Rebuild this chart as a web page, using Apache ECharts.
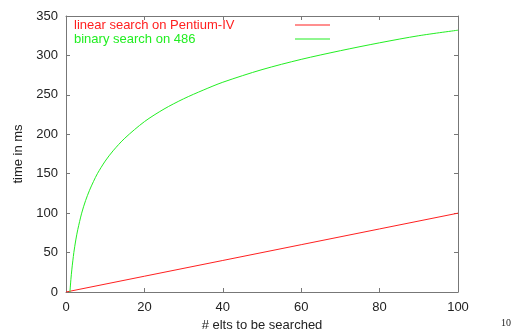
<!DOCTYPE html>
<html><head><meta charset="utf-8">
<script src="https://cdn.jsdelivr.net/npm/echarts@6/dist/echarts.min.js"></script>
<style>html,body{margin:0;padding:0;background:#fff}#c{width:515px;height:335px}</style>
</head><body><div id="c"></div>
<script>
const xTicks = [0, 20, 40, 60, 80, 100];
const yTicks = [0, 50, 100, 150, 200, 250, 300, 350];
const linearX = [0, 20, 40, 60, 80, 100];
const linearY = [0, 20, 40, 60, 80, 100];
const binaryX = [1, 1.25, 1.5, 2, 2.5, 3, 4, 5, 6, 7, 8, 10, 12, 15, 20, 25, 30, 35, 40, 50, 60, 70, 80, 90, 100];
const binaryY = [0, 16, 29, 50, 66, 79, 100, 116, 129, 140, 150, 166, 179, 195, 216, 232, 245, 256, 266, 282, 295, 306, 316, 325, 332];
const seriesNames = ['linear search on Pentium-IV', 'binary search on 486'];
const colors = ['#ff2020', '#22ee22'];

const font = 'Liberation Sans, Arial, sans-serif';
const axisCol = '#777';
const chart = echarts.init(document.getElementById('c'));
const baseAxis = {
  axisLine: {show: true, onZero: false, lineStyle: {color: axisCol, width: 1}},
  axisTick: {show: true, inside: true, length: 4, lineStyle: {color: axisCol}},
  splitLine: {show: false}
};
const legendGraphics = [];
seriesNames.forEach((n, i) => {
  const cy = 25 + i * 14;
  legendGraphics.push({type: 'text', id: 'lt' + i, x: 74, y: cy, silent: true,
    style: {text: n, font: '13px ' + font, fill: colors[i], textVerticalAlign: 'middle', verticalAlign: 'middle'}});
  legendGraphics.push({type: 'rect', id: 'll' + i, silent: true,
    shape: {x: 295, y: cy - 0.5, width: 35, height: 1}, style: {fill: colors[i], stroke: null}});
});
legendGraphics.push({type: 'text', id: 'pg', left: 501, top: 318, silent: true,
  style: {text: '10', font: '10px "Liberation Serif", "DejaVu Serif", serif', fill: '#222'}});

chart.setOption({
  animation: false,
  backgroundColor: '#fff',
  grid: {left: 66, right: 57, top: 16, bottom: 43, containLabel: false, outerBoundsMode: 'none'},
  xAxis: [
    Object.assign({}, baseAxis, {type: 'value', min: 0, max: 100, interval: 20, position: 'bottom',
      name: '# elts to be searched', nameLocation: 'middle', nameGap: 27,
      nameTextStyle: {fontFamily: font, fontSize: 13, color: '#222'},
      axisLabel: {fontFamily: font, fontSize: 13, color: '#222', margin: 9}}),
    Object.assign({}, baseAxis, {type: 'value', min: 0, max: 100, interval: 20, position: 'top', axisLabel: {show: false}})
  ],
  yAxis: [
    Object.assign({}, baseAxis, {type: 'value', min: 0, max: 350, interval: 50, position: 'left',
      name: 'time in ms', nameLocation: 'middle', nameGap: 41, nameRotate: 90,
      nameTextStyle: {fontFamily: font, fontSize: 13, color: '#222'},
      axisLabel: {fontFamily: font, fontSize: 13, color: '#222', margin: 8}}),
    Object.assign({}, baseAxis, {type: 'value', min: 0, max: 350, interval: 50, position: 'right', axisLabel: {show: false}})
  ],
  series: [
    {name: seriesNames[0], type: 'line', symbol: 'none', xAxisIndex: 0, yAxisIndex: 0,
     data: linearX.map((x, i) => [x, linearY[i]]),
     lineStyle: {color: colors[0], width: 1}, itemStyle: {color: colors[0]}},
    {name: seriesNames[1], type: 'line', symbol: 'none', smooth: 0.3, xAxisIndex: 0, yAxisIndex: 0,
     data: binaryX.map((x, i) => [x, binaryY[i]]),
     lineStyle: {color: colors[1], width: 1}, itemStyle: {color: colors[1]}}
  ],
  graphic: legendGraphics
});
</script></body></html>
